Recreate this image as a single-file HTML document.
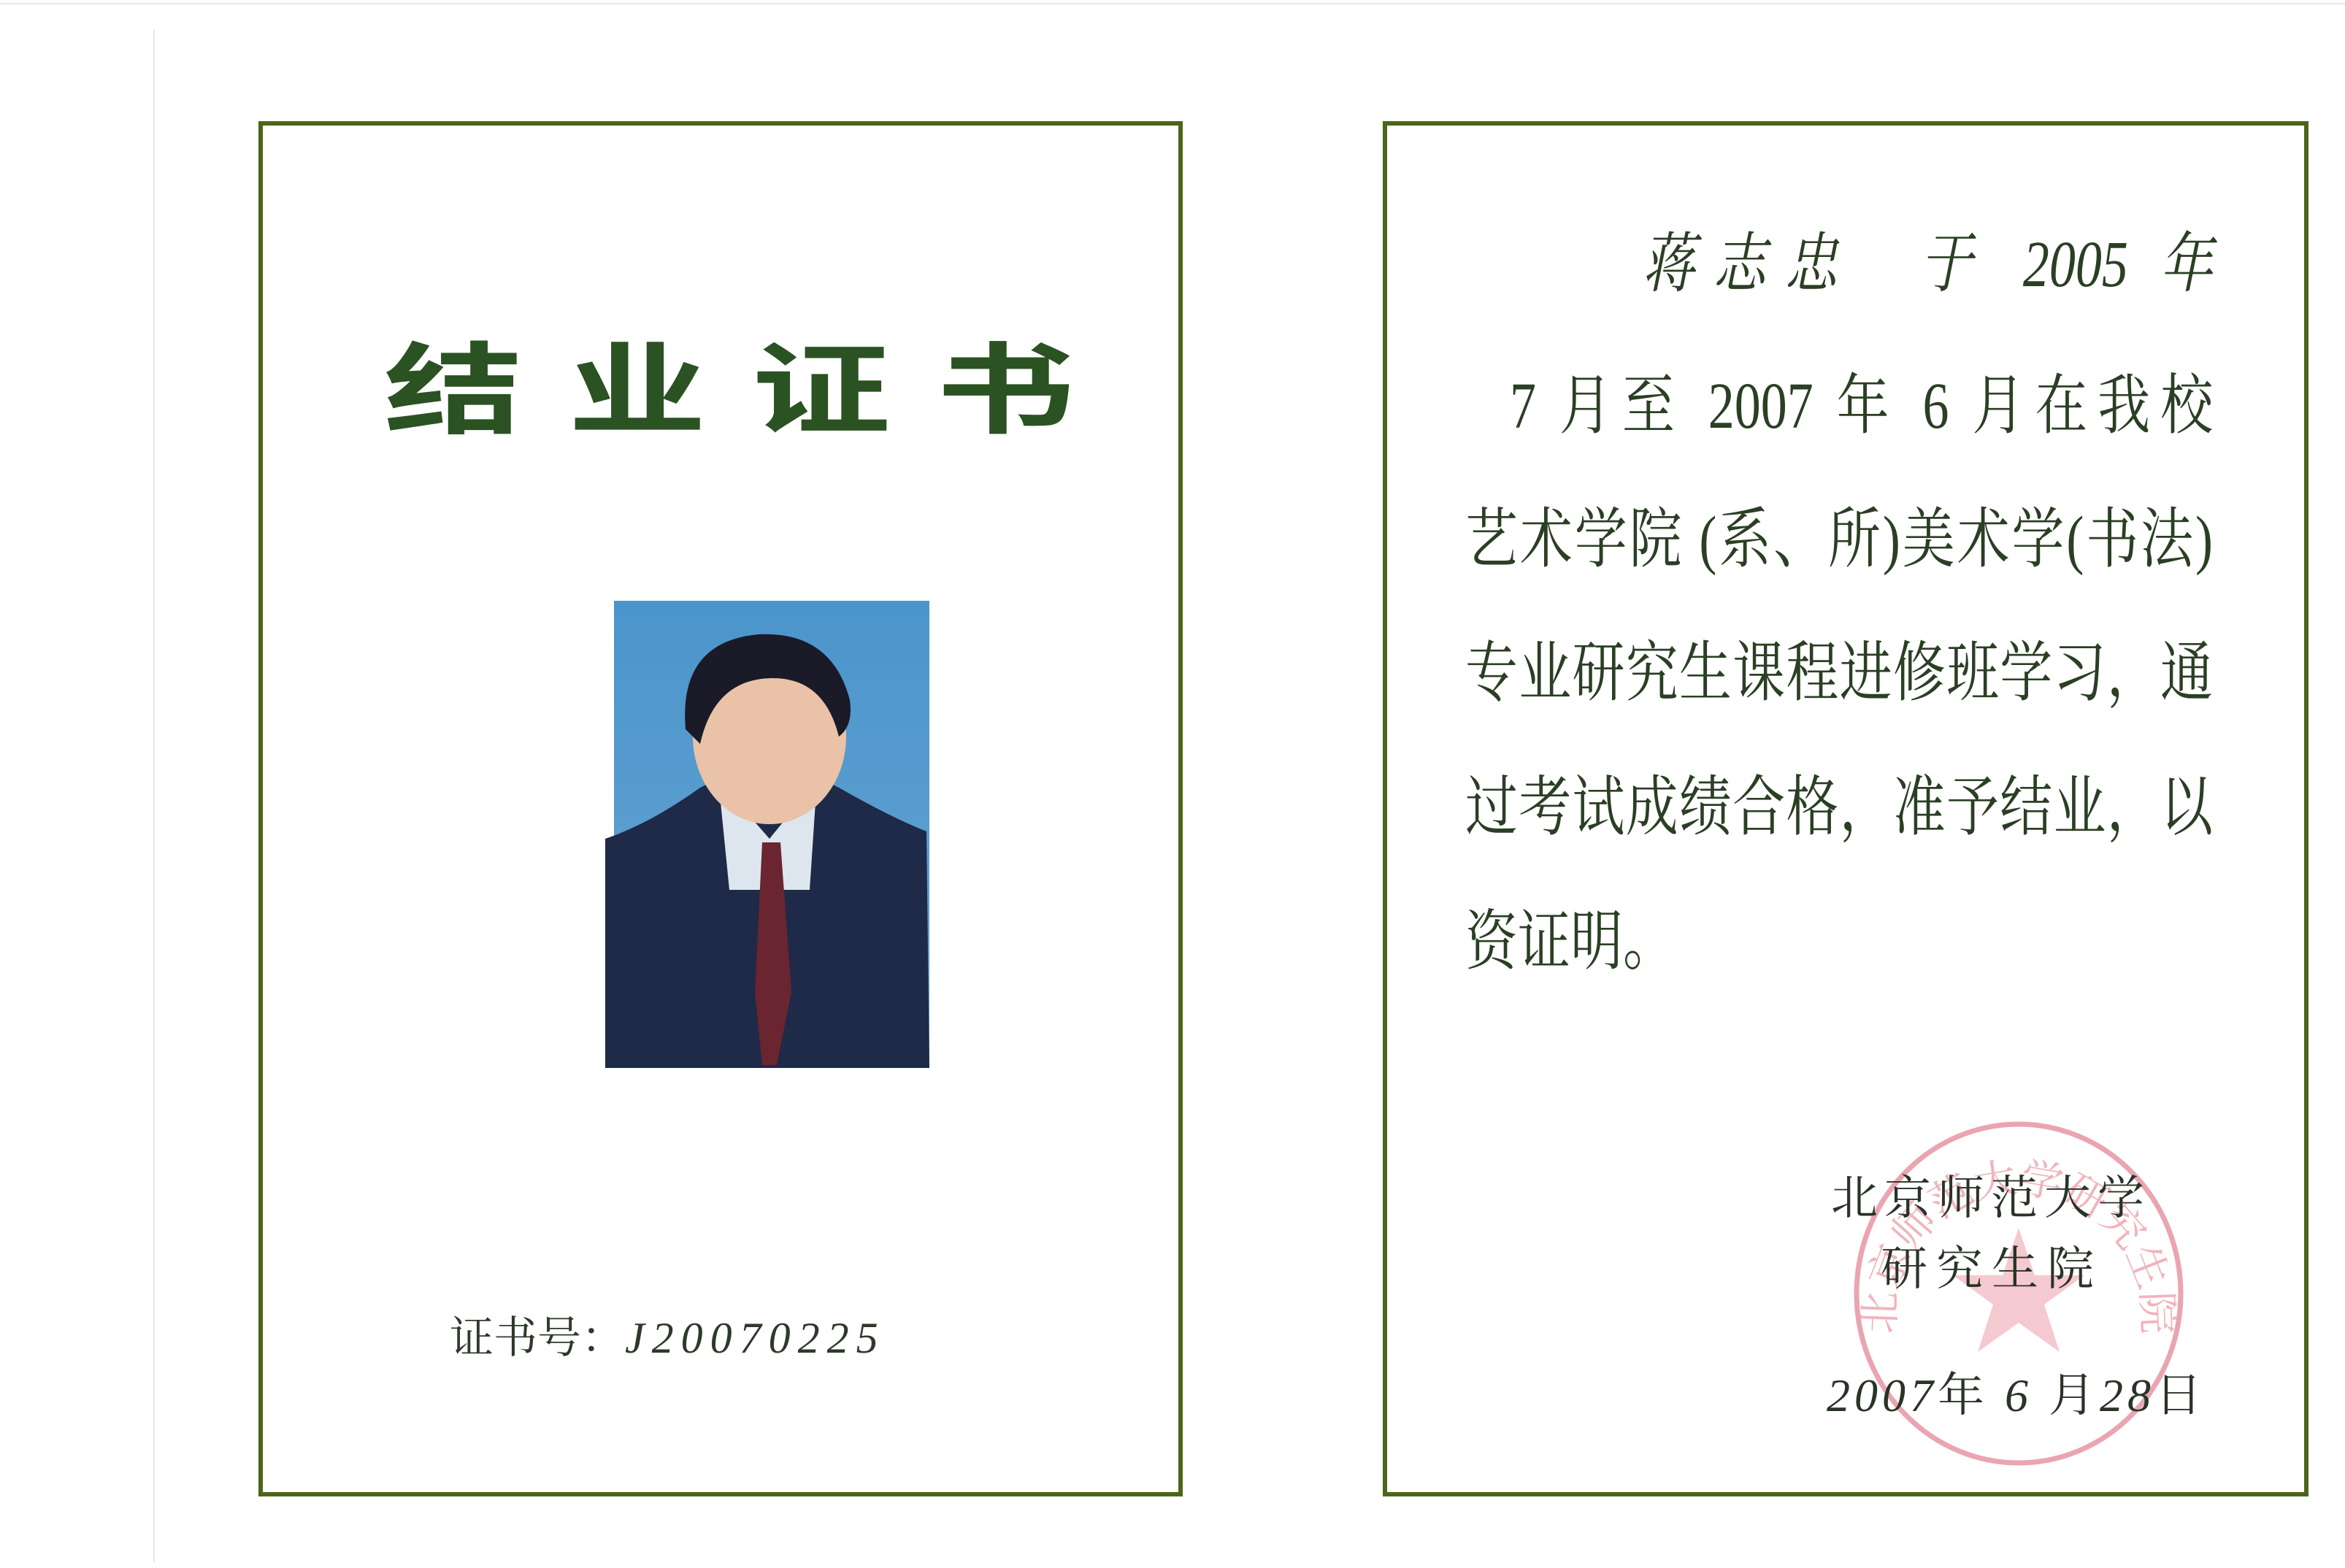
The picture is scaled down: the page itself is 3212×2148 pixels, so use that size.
<!DOCTYPE html>
<html><head><meta charset="utf-8">
<style>
html,body{margin:0;padding:0;}
body{width:3212px;height:2148px;background:#fff;position:relative;overflow:hidden;font-family:"Liberation Serif","Noto Serif CJK SC",serif;}
.abs{position:absolute;}
.frame{position:absolute;border:6px solid #4b6619;box-sizing:border-box;}
.line{position:absolute;font-size:90px;line-height:1;white-space:nowrap;color:#2a3f24;text-align:justify;text-align-last:justify;transform:scaleX(0.8);transform-origin:top left;}
</style></head>
<body>
<div class="abs" style="left:210px;top:40px;width:2px;height:2100px;background:#e8e8e8"></div>
<div class="abs" style="left:0;top:4px;width:3212px;height:2px;background:#e4e4e4"></div>

<div class="frame" style="left:354px;top:166px;width:1266px;height:1884px"></div>
<div class="frame" style="left:1894px;top:166px;width:1268px;height:1884px"></div>

<div class="abs" style="left:526px;top:464px;height:200px;font-family:'Liberation Sans','Noto Sans CJK SC',sans-serif;font-weight:bold;font-size:190px;line-height:200px;letter-spacing:62px;white-space:nowrap;transform:scaleY(0.72);transform-origin:top left;color:#2b5222">结业证书</div>

<svg class="abs" style="left:829px;top:819px" width="448" height="648" viewBox="0 0 448 648">
<defs><linearGradient id="bg" x1="0" y1="0" x2="0" y2="1"><stop offset="0" stop-color="#4a95cc"/><stop offset="1" stop-color="#6aa5d2"/></linearGradient></defs>
<rect x="12" y="4" width="432" height="640" fill="url(#bg)"/>
<path d="M0 330 Q60 310 130 260 L170 240 L280 240 L320 260 Q390 300 440 320 L444 644 L0 644 Z" fill="#1e2a48"/>
<path d="M155 250 L225 330 L290 250 L280 400 L170 400 Z" fill="#dde6ee"/>
<path d="M215 335 L240 335 L255 540 L235 640 L215 640 L205 540 Z" fill="#6a2530"/>
<ellipse cx="225" cy="190" rx="105" ry="120" fill="#e9c2a8"/>
<path d="M110 180 Q100 60 210 50 Q310 45 335 140 Q340 175 320 190 Q300 110 230 110 Q150 110 130 200 Z" fill="#1a1a28"/>
</svg>

<div class="abs" style="left:616px;top:1785px;font-size:60px;white-space:nowrap;color:#2d3a2a">证书号：<span style="font-style:italic;letter-spacing:10px">J20070225</span></div>

<div class="line" style="top:318px;left:2249px;width:977px;font-style:italic">蒋志忠 &nbsp;于 2005 年</div>
<div class="line" style="top:512px;left:2068px;width:1204px">7 月至 2007 年 6 月在我校</div>
<div class="line" style="top:695px;left:2007px;width:1280px">艺术学院 (系、所)美术学(书法)</div>
<div class="line" style="top:878px;left:2007px;width:1280px">专业研究生课程进修班学习，通</div>
<div class="line" style="top:1062px;left:2007px;width:1280px">过考试成绩合格，准予结业，以</div>
<div class="abs" style="left:2007px;top:1246px;font-size:90px;line-height:1;color:#2a3f24;transform:scaleX(0.8);transform-origin:top left;white-space:nowrap">资证明。</div>

<svg class="abs" style="left:2525px;top:1532px" width="480" height="480" viewBox="0 0 480 480">
<defs><path id="arc" d="M80 330 A170 170 0 1 1 400 330"/></defs>
<ellipse cx="240" cy="240" rx="222" ry="232" fill="none" stroke="#eaa5b0" stroke-width="7"/>
<polygon points="240,150 262,215 330,215 275,255 296,320 240,280 184,320 205,255 150,215 218,215" fill="#f2bcc4" opacity="0.8"/>
<text font-size="58" fill="#f0b4be" font-family="Liberation Serif,Noto Serif CJK SC,serif"><textPath href="#arc" startOffset="50%" text-anchor="middle">北京师范大学研究生院</textPath></text>
</svg>

<div class="abs" style="left:2508px;top:1590px;font-size:64px;letter-spacing:9px;white-space:nowrap;color:#2a3328">北京师范大学</div>
<div class="abs" style="left:2576px;top:1687px;font-size:64px;letter-spacing:12px;white-space:nowrap;color:#2a3328">研究生院</div>
<div class="abs" style="left:2502px;top:1860px;font-size:64px;white-space:nowrap;color:#2a3328;letter-spacing:6px"><i>2007</i>年 <i>6</i> 月<i>28</i>日</div>
</body></html>
